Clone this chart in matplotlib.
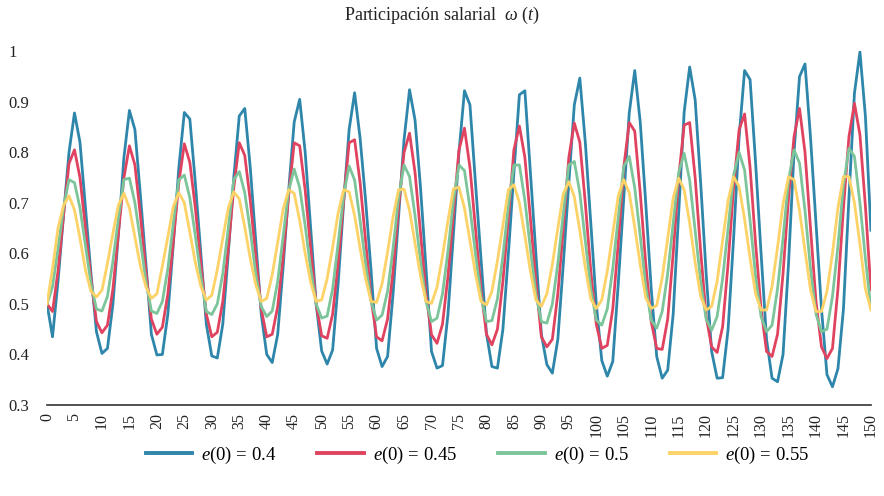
import numpy as np
import matplotlib
matplotlib.use('Agg')
import matplotlib.pyplot as plt
from matplotlib.ticker import FuncFormatter

plt.rcParams['font.family'] = ['Liberation Serif', 'DejaVu Serif']
plt.rcParams['mathtext.fontset'] = 'custom'
plt.rcParams['mathtext.rm'] = 'Liberation Serif'
plt.rcParams['mathtext.it'] = 'Liberation Serif:italic'

t = np.arange(0, 151)

# e(0) = 0.4
w_040 = [0.500, 0.435, 0.545, 0.675, 0.800, 0.878, 0.820, 0.690, 0.560, 0.445,
         0.402, 0.412, 0.500, 0.640, 0.790, 0.883, 0.845, 0.715, 0.580, 0.440,
         0.399, 0.400, 0.480, 0.620, 0.770, 0.879, 0.866, 0.740, 0.600, 0.460,
         0.397, 0.393, 0.460, 0.600, 0.750, 0.872, 0.887, 0.770, 0.625, 0.480,
         0.400, 0.384, 0.440, 0.575, 0.725, 0.860, 0.905, 0.800, 0.650, 0.500,
         0.407, 0.381, 0.409, 0.540, 0.700, 0.845, 0.918, 0.828, 0.705, 0.565,
         0.412, 0.376, 0.396, 0.520, 0.673, 0.825, 0.924, 0.864, 0.730, 0.570,
         0.406, 0.373, 0.378, 0.480, 0.640, 0.800, 0.922, 0.894, 0.740, 0.590,
         0.442, 0.376, 0.373, 0.450, 0.600, 0.760, 0.914, 0.922, 0.760, 0.600,
         0.440, 0.380, 0.363, 0.430, 0.580, 0.740, 0.894, 0.947, 0.820, 0.660,
         0.500, 0.388, 0.357, 0.386, 0.540, 0.710, 0.878, 0.962, 0.860, 0.700,
         0.530, 0.396, 0.353, 0.369, 0.480, 0.680, 0.880, 0.969, 0.904, 0.740,
         0.560, 0.406, 0.353, 0.354, 0.450, 0.630, 0.830, 0.962, 0.944, 0.780,
         0.600, 0.430, 0.353, 0.346, 0.400, 0.580, 0.800, 0.950, 0.975, 0.830,
         0.660, 0.490, 0.360, 0.336, 0.372, 0.490, 0.710, 0.917, 0.999, 0.871,
         0.646]

# e(0) = 0.45
w_045 = [0.500, 0.485, 0.565, 0.675, 0.778, 0.805, 0.750, 0.650, 0.550, 0.465,
         0.443, 0.458, 0.530, 0.640, 0.750, 0.813, 0.775, 0.675, 0.565, 0.470,
         0.440, 0.454, 0.520, 0.625, 0.740, 0.817, 0.780, 0.690, 0.580, 0.480,
         0.435, 0.444, 0.505, 0.610, 0.730, 0.819, 0.794, 0.705, 0.595, 0.490,
         0.435, 0.440, 0.495, 0.595, 0.715, 0.819, 0.813, 0.725, 0.610, 0.500,
         0.437, 0.432, 0.480, 0.580, 0.705, 0.819, 0.825, 0.740, 0.625, 0.510,
         0.435, 0.427, 0.470, 0.565, 0.690, 0.800, 0.838, 0.760, 0.640, 0.520,
         0.439, 0.422, 0.460, 0.555, 0.680, 0.805, 0.848, 0.770, 0.650, 0.530,
         0.440, 0.419, 0.450, 0.545, 0.670, 0.805, 0.852, 0.790, 0.670, 0.545,
         0.435, 0.415, 0.430, 0.520, 0.650, 0.790, 0.858, 0.820, 0.700, 0.565,
         0.460, 0.412, 0.418, 0.490, 0.620, 0.770, 0.859, 0.842, 0.720, 0.580,
         0.465, 0.412, 0.410, 0.470, 0.600, 0.750, 0.854, 0.859, 0.750, 0.605,
         0.475, 0.415, 0.404, 0.455, 0.580, 0.730, 0.845, 0.876, 0.770, 0.620,
         0.490, 0.406, 0.396, 0.440, 0.560, 0.710, 0.831, 0.887, 0.800, 0.650,
         0.505, 0.415, 0.392, 0.412, 0.530, 0.690, 0.831, 0.897, 0.835, 0.693,
         0.528]

# e(0) = 0.5
w_050 = [0.500, 0.534, 0.610, 0.690, 0.746, 0.740, 0.690, 0.615, 0.540, 0.490,
         0.486, 0.515, 0.585, 0.670, 0.746, 0.749, 0.700, 0.625, 0.545, 0.486,
         0.481, 0.505, 0.570, 0.660, 0.746, 0.755, 0.710, 0.635, 0.555, 0.485,
         0.479, 0.500, 0.560, 0.650, 0.746, 0.762, 0.720, 0.645, 0.560, 0.495,
         0.475, 0.486, 0.545, 0.635, 0.725, 0.767, 0.730, 0.655, 0.570, 0.500,
         0.472, 0.476, 0.530, 0.620, 0.715, 0.773, 0.745, 0.665, 0.580, 0.505,
         0.468, 0.478, 0.525, 0.610, 0.710, 0.775, 0.752, 0.675, 0.585, 0.505,
         0.465, 0.472, 0.520, 0.605, 0.705, 0.775, 0.764, 0.690, 0.600, 0.515,
         0.465, 0.467, 0.510, 0.595, 0.695, 0.775, 0.775, 0.705, 0.610, 0.520,
         0.465, 0.462, 0.500, 0.580, 0.680, 0.775, 0.782, 0.720, 0.625, 0.530,
         0.468, 0.458, 0.490, 0.570, 0.670, 0.772, 0.792, 0.730, 0.635, 0.535,
         0.468, 0.452, 0.485, 0.560, 0.660, 0.760, 0.798, 0.745, 0.645, 0.545,
         0.470, 0.448, 0.475, 0.550, 0.650, 0.755, 0.800, 0.765, 0.665, 0.555,
         0.475, 0.445, 0.458, 0.530, 0.630, 0.745, 0.805, 0.779, 0.685, 0.570,
         0.480, 0.445, 0.450, 0.515, 0.615, 0.735, 0.808, 0.792, 0.700, 0.590,
         0.491]

# e(0) = 0.55
w_055 = [0.500, 0.570, 0.650, 0.695, 0.714, 0.686, 0.630, 0.567, 0.525, 0.514,
         0.527, 0.580, 0.640, 0.696, 0.719, 0.690, 0.632, 0.575, 0.534, 0.511,
         0.520, 0.575, 0.633, 0.693, 0.720, 0.700, 0.642, 0.582, 0.535, 0.508,
         0.517, 0.568, 0.630, 0.690, 0.722, 0.708, 0.652, 0.590, 0.538, 0.505,
         0.511, 0.558, 0.622, 0.688, 0.726, 0.719, 0.665, 0.600, 0.543, 0.505,
         0.508, 0.550, 0.612, 0.680, 0.726, 0.722, 0.675, 0.610, 0.550, 0.505,
         0.503, 0.540, 0.603, 0.672, 0.726, 0.727, 0.685, 0.620, 0.555, 0.505,
         0.501, 0.533, 0.595, 0.665, 0.728, 0.731, 0.690, 0.625, 0.560, 0.505,
         0.498, 0.525, 0.585, 0.655, 0.726, 0.736, 0.700, 0.635, 0.565, 0.508,
         0.495, 0.520, 0.578, 0.650, 0.718, 0.742, 0.712, 0.645, 0.572, 0.510,
         0.491, 0.508, 0.565, 0.640, 0.714, 0.746, 0.720, 0.652, 0.578, 0.512,
         0.491, 0.497, 0.552, 0.630, 0.710, 0.749, 0.726, 0.660, 0.582, 0.515,
         0.488, 0.495, 0.545, 0.625, 0.705, 0.752, 0.732, 0.668, 0.590, 0.520,
         0.488, 0.488, 0.535, 0.612, 0.698, 0.752, 0.746, 0.685, 0.605, 0.528,
         0.485, 0.485, 0.525, 0.600, 0.690, 0.752, 0.752, 0.700, 0.618, 0.530,
         0.488]

series = [w_040, w_045, w_050, w_055]
labels = ['$e$(0) = 0.4', '$e$(0) = 0.45', '$e$(0) = 0.5', '$e$(0) = 0.55']
colors = ['#2E86AB', '#E0435F', '#7CC59A', '#FDD266']

fig = plt.figure(figsize=(8.84, 4.96), dpi=100)
ax = fig.add_axes([0.0532, 0.1835, 0.932, 0.713])

for y, lab, c in zip(series, labels, colors):
    ax.plot(t, y, color=c, lw=2.0, label=lab)

ax.set_xlim(0, 150)
ax.set_ylim(0.3, 1.0)
ax.set_xticks(np.arange(0, 151, 5))
ax.set_yticks(np.arange(0.3, 1.01, 0.1))
ax.yaxis.set_major_formatter(FuncFormatter(lambda v, p: '1' if v > 0.99 else f'{v:.1f}'))
ax.tick_params(axis='x', length=0, pad=6, labelsize=11.5, labelrotation=90, colors='#222222')
ax.tick_params(axis='y', length=0, pad=28, labelsize=12, colors='#222222')
for lbl in ax.get_yticklabels():
    lbl.set_horizontalalignment('left')

for s in ['top', 'right', 'left']:
    ax.spines[s].set_visible(False)
ax.spines['bottom'].set_color('#333333')
ax.spines['bottom'].set_linewidth(1.2)

fig.suptitle(r'Participación salarial  $\omega\ (t)$', y=0.99, fontsize=13, color='#222222')

leg = fig.legend(loc='center', bbox_to_anchor=(0.54, 0.082), ncol=4, frameon=False,
                 fontsize=13.5, handlelength=2.5, columnspacing=2.2, handletextpad=0.45)
for h in leg.legend_handles:
    h.set_linewidth(2.8)

fig.savefig('out.png', dpi=100)
